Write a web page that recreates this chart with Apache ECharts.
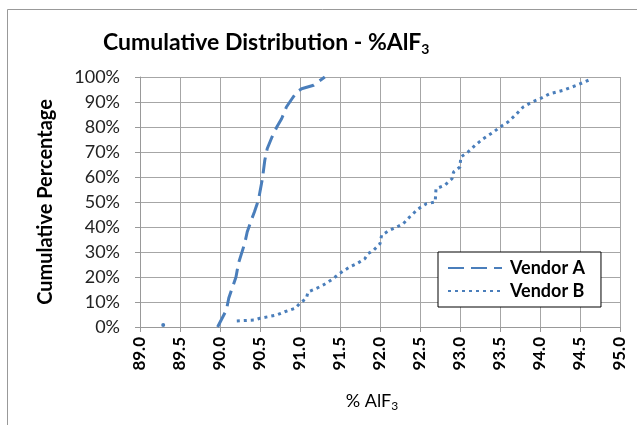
<!DOCTYPE html>
<html>
<head>
<meta charset="utf-8">
<script src="https://cdn.jsdelivr.net/npm/echarts@6/dist/echarts.min.js"></script>
<style>
  html, body { margin: 0; padding: 0; background: #fff; }
  #chart { width: 637px; height: 425px; }
</style>
</head>
<body>
<div id="chart"></div>
<script>
// Vendor A (% AlF3, cumulative %)
var vendorAX = [89.97, 90.08, 90.11, 90.20, 90.23, 90.31, 90.34, 90.40, 90.43, 90.48, 90.53, 90.56, 90.59, 90.65, 90.71, 90.77, 90.83, 90.90, 90.96, 91.02, 91.17, 91.31];
var vendorAY = [0, 6.8, 11.6, 20, 25.4, 33.6, 38, 43.5, 46, 50.7, 59.3, 66.7, 71.3, 76, 80, 83.3, 88, 91.3, 94, 95.3, 96.7, 100];

// Vendor B - first value stands alone, null = gap
var vendorBX = [89.29, null, 90.21, 90.43, 90.50, 90.60, 90.71, 90.81, 90.94, 91.00, 91.08, 91.10, 91.21, 91.29, 91.40, 91.50, 91.62, 91.71, 91.81, 91.85, 91.92, 92.00, 92.02, 92.12, 92.21, 92.29, 92.37, 92.48, 92.58, 92.69, 92.70, 92.81, 92.90, 92.92, 93.00, 93.01, 93.10, 93.19, 93.29, 93.42, 93.50, 93.60, 93.69, 93.79, 93.90, 94.00, 94.12, 94.29, 94.46, 94.65];
var vendorBY = [0.8, null, 2.4, 2.8, 3.5, 4.1, 4.8, 6.1, 7.5, 9.5, 11.5, 14, 15.5, 16.8, 19, 21.5, 24, 25.3, 27.3, 29.3, 30.7, 33.3, 36.7, 38.7, 40, 41.3, 44, 47.3, 49.3, 50, 55.3, 56.7, 59.3, 62, 64, 68, 70, 72.7, 75.3, 78, 80, 82, 84.7, 88, 90, 91.3, 93.3, 94.7, 96.7, 99.3];

var FONT = 'Lato';

function pairs(xs, ys) {
    var out = [];
    for (var i = 0; i < xs.length; i++) {
        if (xs[i] === null) {
            out.push('-');
        } else if (i === 0 && xs[1] === null) {
            // lone point, show it as a dot
            out.push({value: [xs[i], ys[i]], symbol: 'circle', symbolSize: 4});
        } else {
            out.push([xs[i], ys[i]]);
        }
    }
    return out;
}

var chart = echarts.init(document.getElementById('chart'));

var option = {
    animation: false,
    backgroundColor: '#fff',
    graphic: [
        {
            type: 'rect',
            shape: {x: 7.5, y: 9.5, width: 700, height: 500},
            style: {fill: 'none', stroke: '#999', lineWidth: 1},
            silent: true
        }
    ],
    title: {
        text: '{a|Cumulative Distribution - %AlF}{s|3}',
        left: 98,
        top: 25,
        textStyle: {
            rich: {
                a: {fontFamily: FONT, fontWeight: 'bold', fontSize: 23, color: '#000'},
                s: {fontFamily: FONT, fontWeight: 'bold', fontSize: 14, color: '#000', verticalAlign: 'bottom', padding: [12, 0, 0, 0]}
            }
        }
    },
    legend: {
        orient: 'vertical',
        left: 438,
        top: 252,
        padding: [7, 16, 7, 9],
        itemGap: 5,
        itemWidth: 54,
        itemHeight: 14,
        backgroundColor: '#fff',
        borderColor: '#000',
        borderWidth: 1,
        itemStyle: {color: 'transparent', borderWidth: 0},
        textStyle: {fontFamily: FONT, fontWeight: 'bold', fontSize: 18, color: '#000', padding: [0, 0, 0, 3]},
        data: ['Vendor A', 'Vendor B']
    },
    grid: {left: 140, right: 17, top: 77, bottom: 98},
    xAxis: {
        type: 'value',
        min: 89,
        max: 95,
        interval: 0.5,
        name: '{a|% AlF}{s|3}',
        nameLocation: 'middle',
        nameGap: 64,
        nameTextStyle: {
            padding: [0, 16, 0, 0],
            rich: {
                a: {fontFamily: FONT, fontSize: 18, color: '#000'},
                s: {fontFamily: FONT, fontSize: 12, color: '#000', verticalAlign: 'bottom', padding: [9, 0, 0, 0]}
            }
        },
        axisLine: {show: true, onZero: false, lineStyle: {color: '#999'}},
        axisTick: {show: true, length: 5, lineStyle: {color: '#999'}},
        splitLine: {show: true, lineStyle: {color: '#a6a6a6', width: 1}},
        axisLabel: {
            rotate: 90,
            margin: 10,
            fontFamily: FONT,
            fontWeight: 'bold',
            fontSize: 17,
            color: '#000',
            formatter: function (v) { return v.toFixed(1); }
        }
    },
    yAxis: {
        type: 'value',
        min: 0,
        max: 100,
        interval: 10,
        name: 'Cumulative Percentage',
        nameLocation: 'middle',
        nameGap: 84,
        nameTextStyle: {fontFamily: FONT, fontWeight: 'bold', fontSize: 20, color: '#000'},
        axisLine: {show: true, lineStyle: {color: '#999'}},
        axisTick: {show: true, length: 5, lineStyle: {color: '#999'}},
        splitLine: {show: true, lineStyle: {color: '#a6a6a6', width: 1}},
        axisLabel: {
            margin: 20,
            fontFamily: FONT,
            fontSize: 18,
            color: '#222',
            formatter: '{value}%'
        }
    },
    series: [
        {
            name: 'Vendor A',
            type: 'line',
            symbol: 'none',
            color: '#4a7ebb',
            lineStyle: {color: '#4a7ebb', width: 3, type: [16, 7]},
            data: pairs(vendorAX, vendorAY)
        },
        {
            name: 'Vendor B',
            type: 'line',
            symbol: 'none',
            connectNulls: false,
            color: '#4a7ebb',
            itemStyle: {color: '#4a7ebb'},
            lineStyle: {color: '#4a7ebb', width: 3, type: [3, 4]},
            data: pairs(vendorBX, vendorBY)
        }
    ]
};

chart.setOption(option);
</script>
</body>
</html>
